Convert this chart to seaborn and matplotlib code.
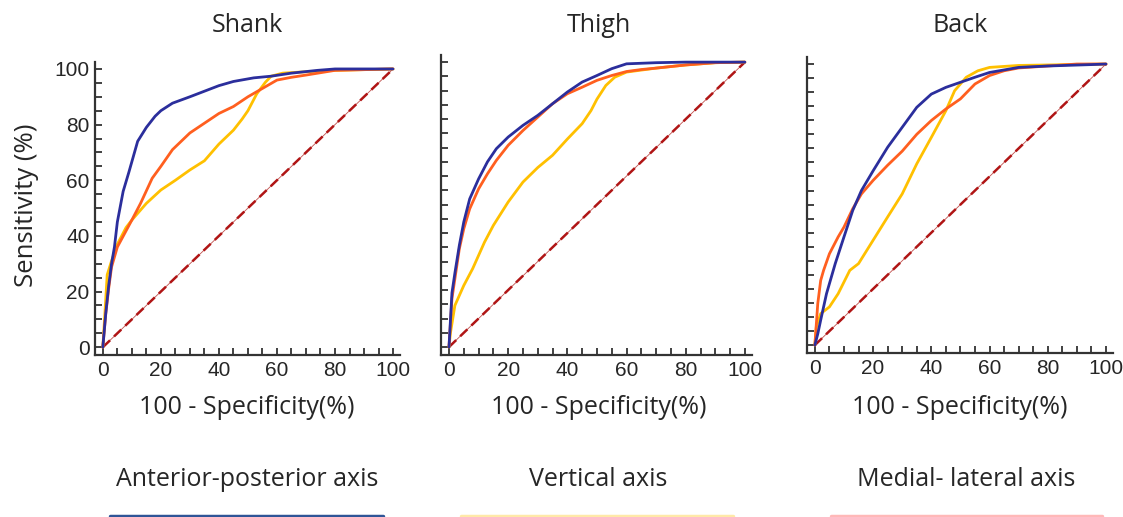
import numpy as np
import pandas as pd
import matplotlib
matplotlib.use("Agg")
import matplotlib.pyplot as plt
import seaborn as sns
from matplotlib.ticker import MultipleLocator
from matplotlib.lines import Line2D

# -------------------- data --------------------
panels = ['Shank', 'Thigh', 'Back']
axis_names = ['Anterior-posterior axis', 'Vertical axis', 'Medial- lateral axis']

# Shank
shank_ap_x = [0, 1, 2, 3, 4, 5, 7, 9, 12, 15, 18, 20, 24, 30, 35, 40, 45, 52, 58, 65, 74, 80, 100]
shank_ap_y = [0, 12, 22, 30, 36, 45, 56, 63, 74, 79, 83, 85, 87.7, 90, 92, 94, 95.5, 96.8, 97.4, 98.5, 99.5, 100, 100]
shank_v_x = [0, 0.7, 1.5, 3, 5, 8, 10, 15, 20, 25, 30, 35, 40, 45, 48, 50, 53, 56, 58, 62, 70, 80, 100]
shank_v_y = [0, 12, 26, 31, 37, 43, 45.7, 51.7, 56.5, 60, 63.7, 67, 73, 78, 82, 85, 91, 95.2, 97.4, 98.5, 99, 99.5, 100]
shank_ml_x = [0, 1, 2, 3, 5, 10, 13, 17, 20, 24, 30, 35, 40, 45, 50, 55, 60, 65, 70, 80, 100]
shank_ml_y = [0, 12, 21, 28.8, 36, 45.7, 51.7, 60.7, 65, 71, 77, 80.5, 84, 86.5, 90, 93, 96, 97, 97.8, 99.5, 100]

# Thigh
thigh_ap_x = [0, 1, 2, 3.5, 5, 7, 10, 13, 16, 20, 25, 30, 35, 40, 45, 50, 55, 60, 70, 80, 100]
thigh_ap_y = [0, 19, 26, 35.7, 43.9, 52, 59, 65, 69.6, 73.7, 77.8, 81.3, 85.4, 89.5, 93, 95.3, 97.7, 99.4, 99.8, 100, 100]
thigh_v_x = [0, 0.5, 2, 5, 8, 12, 15, 20, 25, 30, 35, 40, 45, 48, 50, 53, 56, 60, 70, 80, 90, 100]
thigh_v_y = [0, 5, 14.6, 21.6, 27.5, 36.8, 42.7, 50.9, 57.9, 63, 67.3, 73, 78.4, 83, 87, 91.8, 94.7, 96.5, 97.9, 99, 99.8, 100]
thigh_ml_x = [0, 1, 2, 3.5, 5, 7, 10, 13, 16, 20, 25, 30, 35, 40, 45, 50, 55, 60, 65, 70, 80, 90, 100]
thigh_ml_y = [0, 17, 24, 34.5, 41.5, 48.5, 55.5, 60.8, 65.5, 70.8, 76, 80.7, 85.4, 88.9, 91.2, 93.6, 95.3, 96.7, 97.4, 97.9, 99, 99.8, 100]

# Back
back_ap_x = [0, 1, 2, 4, 7, 10, 13, 16, 20, 25, 30, 35, 40, 45, 50, 55, 60, 70, 80, 95, 100]
back_ap_y = [0, 4, 8.9, 18.3, 29, 38.5, 47.9, 55, 62, 70.4, 77.5, 84.6, 89.3, 91.7, 93.5, 95.3, 97, 98.8, 99.3, 99.8, 100]
back_v_x = [0, 0.5, 2, 5, 8, 12, 15, 20, 25, 30, 35, 40, 45, 48, 52, 56, 60, 70, 100]
back_v_y = [0, 6.5, 11.2, 13.6, 18.3, 26.6, 29, 37.3, 45.6, 53.8, 64.5, 73.9, 83.4, 90.5, 95.3, 97.6, 98.8, 99.5, 100]
back_ml_x = [0, 1, 2, 3, 5, 8, 10, 13, 16, 20, 25, 30, 35, 40, 45, 50, 55, 60, 65, 70, 80, 90, 100]
back_ml_y = [0, 14.8, 23, 26.6, 32.5, 38.5, 42, 48.5, 53.8, 58.6, 64, 69, 75, 79.9, 84, 87.6, 92.9, 95.9, 97.6, 98.6, 99.3, 100, 100]

chance_x = [0, 100]
chance_y = [0, 100]

curves = {
    'Shank': [(shank_ap_x, shank_ap_y), (shank_v_x, shank_v_y), (shank_ml_x, shank_ml_y)],
    'Thigh': [(thigh_ap_x, thigh_ap_y), (thigh_v_x, thigh_v_y), (thigh_ml_x, thigh_ml_y)],
    'Back': [(back_ap_x, back_ap_y), (back_v_x, back_v_y), (back_ml_x, back_ml_y)],
}

curve_colors = ['#2B2E9C', '#FFC000', '#FF5F1F']
legend_colors = ['#2F5597', '#FFE9A8', '#FFB8B8']

sns.set_style('white')
plt.rcParams['font.family'] = ['Open Sans', 'DejaVu Sans']

fig = plt.figure(figsize=(11.23, 5.17), dpi=100)

# axes boxes in figure pixels (left, right, bottom, top)
boxes = [(95, 400, 355, 62), (441, 752, 355, 55), (807, 1113, 353, 57)]
W, H = 1123, 517

for i, name in enumerate(panels):
    l, r, b, t = boxes[i]
    ax = fig.add_axes([l / W, (H - b) / H, (r - l) / W, (b - t) / H])
    sns.lineplot(x=chance_x, y=chance_y, ax=ax, color='#C0504D', lw=0.6)
    sns.lineplot(x=chance_x, y=chance_y, ax=ax, color='#B01515', lw=1.8,
                 linestyle=(0, (4, 2.2)))
    for j in [1, 2, 0]:
        cx, cy = curves[name][j]
        sns.lineplot(x=cx, y=cy, ax=ax, color=curve_colors[j], lw=2.0,
                     estimator=None, sort=False)
    ax.set_xlim(-2.7, 102.4)
    ax.set_ylim(-2.8, 102.5)
    ax.xaxis.set_major_locator(MultipleLocator(20))
    ax.yaxis.set_major_locator(MultipleLocator(20))
    ax.xaxis.set_minor_locator(MultipleLocator(5))
    ax.yaxis.set_minor_locator(MultipleLocator(5))
    ax.tick_params(which='both', direction='in', length=5, width=1.3, color='#333333',
                   bottom=True, left=True)
    ax.tick_params(which='major', labelsize=15, pad=4)
    for lab in ax.get_xticklabels() + ax.get_yticklabels():
        lab.set_fontfamily('Liberation Sans')
    if i > 0:
        ax.set_yticklabels([])
    for s in ['top', 'right']:
        ax.spines[s].set_visible(False)
    for s in ['left', 'bottom']:
        ax.spines[s].set_color('#333333')
        ax.spines[s].set_linewidth(1.6)
    ax.set_xlabel('')
    ax.set_ylabel('')

title_x = [247, 599, 960]
for i, name in enumerate(panels):
    fig.text(title_x[i] / W, 1 - 26 / H, name, ha='center', va='center', fontsize=18)
    fig.text(title_x[i] / W, 1 - 408 / H, '100 - Specificity(%)', ha='center', va='center', fontsize=18)

fig.text(27 / W, 1 - 205 / H, 'Sensitivity (%)', ha='center', va='center', rotation=90, fontsize=18.5)

# bottom legend
leg_x = [247, 598, 966]
leg_spans = [(110, 383), (461, 733), (831, 1102)]
for i, txt in enumerate(axis_names):
    fig.text(leg_x[i] / W, 1 - 480 / H, txt, ha='center', va='center', fontsize=18)
    x0, x1 = leg_spans[i]
    fig.add_artist(Line2D([x0 / W, x1 / W], [1 - 516 / H, 1 - 516 / H],
                          color=legend_colors[i], lw=2.5, transform=fig.transFigure))

fig.savefig('out.png', dpi=100)
